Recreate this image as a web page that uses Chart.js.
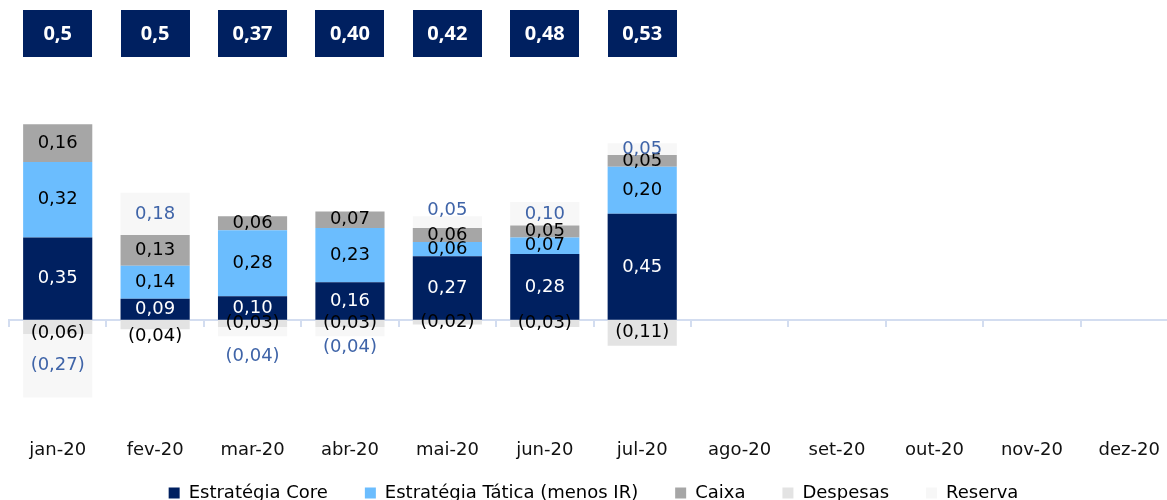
<!DOCTYPE html>
<html>
<head>
<meta charset="utf-8">
<script src="https://cdn.jsdelivr.net/npm/chart.js@4.4.0/dist/chart.umd.min.js"></script>
<style>
html,body{margin:0;padding:0;overflow:hidden;background:#fff}
#wrap{width:1180px;height:512px;position:relative}
</style>
</head>
<body>
<div id="wrap"><canvas id="c"></canvas></div>
<script>
const categories = ['jan-20','fev-20','mar-20','abr-20','mai-20','jun-20','jul-20','ago-20','set-20','out-20','nov-20','dez-20'];
const core     = [0.35, 0.09, 0.10, 0.16, 0.27, 0.28, 0.45, null, null, null, null, null];
const tatica   = [0.32, 0.14, 0.28, 0.23, 0.06, 0.07, 0.20, null, null, null, null, null];
const caixa    = [0.16, 0.13, 0.06, 0.07, 0.06, 0.05, 0.05, null, null, null, null, null];
const despesas = [-0.06, -0.04, -0.03, -0.03, -0.02, -0.03, -0.11, null, null, null, null, null];
const reserva  = [-0.27, 0.18, -0.04, -0.04, 0.05, 0.10, 0.05, null, null, null, null, null];
const totalLabels = ['0,5','0,5','0,37','0,40','0,42','0,48','0,53'];

const FONT = '"DejaVu Sans", sans-serif';

function fmt(v){
  const s = Math.abs(v).toFixed(2).replace('.', ',');
  return v < 0 ? '(' + s + ')' : s;
}

// manual label nudges (datasetIndex-index : pixels)
const labelNudge = {'3-0': 6, '3-1': 12, '4-2': 25, '4-3': 16, '4-4': -12};

const valueLabels = {
  id: 'valueLabels',
  afterDatasetsDraw(chart){
    const ctx = chart.ctx;
    ctx.save();
    ctx.font = '18px ' + FONT;
    ctx.textAlign = 'center';
    ctx.textBaseline = 'middle';
    chart.data.datasets.forEach((ds, di) => {
      const meta = chart.getDatasetMeta(di);
      meta.data.forEach((el, i) => {
        const v = ds.data[i];
        if (v === null || v === undefined) return;
        const p = el.getProps(['x','y','base'], true);
        const y = (p.y + p.base) / 2 + (labelNudge[di + '-' + i] || 0);
        ctx.fillStyle = ds.labelColor;
        ctx.fillText(fmt(v), p.x, y);
      });
    });
    ctx.restore();
  }
};

const totalBoxes = {
  id: 'totalBoxes',
  afterDraw(chart){
    const ctx = chart.ctx;
    const meta = chart.getDatasetMeta(0);
    ctx.save();
    ctx.font = 'bold 20px "Open Sans", sans-serif';
    ctx.textAlign = 'center';
    ctx.textBaseline = 'middle';
    totalLabels.forEach((t, i) => {
      const el = meta.data[i];
      const w = el.width;
      ctx.fillStyle = '#002060';
      ctx.fillRect(Math.round(el.x - w/2), 10, Math.round(w), 47);
      ctx.fillStyle = '#ffffff';
      ctx.fillText(t, el.x, 34);
    });
    ctx.restore();
  }
};

const ds = (label, data, color, labelColor) => ({
  label, data, backgroundColor: color, labelColor,
  borderWidth: 0, barPercentage: 0.71, categoryPercentage: 1.0, stack: 's'
});

new Chart(document.getElementById('c'), {
  type: 'bar',
  data: {
    labels: categories,
    datasets: [
      ds('Estratégia Core', core, '#002060', '#ffffff'),
      ds('Estratégia Tática (menos IR)', tatica, '#6BBDFE', '#000000'),
      ds('Caixa', caixa, '#A6A6A6', '#000000'),
      ds('Despesas', despesas, '#E3E3E3', '#000000'),
      ds('Reserva', reserva, '#F7F7F7', '#3F64A8')
    ]
  },
  options: {
    responsive: true,
    maintainAspectRatio: false,
    animation: false,
    layout: {padding: {left: 9, right: 2, top: 0, bottom: 0}},
    plugins: {
      legend: {
        position: 'bottom',
        labels: {
          boxWidth: 11, boxHeight: 11, padding: 37,
          color: '#000000',
          font: {family: FONT, size: 18}
        }
      },
      tooltip: {enabled: false}
    },
    scales: {
      x: {
        stacked: true,
        position: {y: -0.47},
        offset: true,
        grid: {display: false, offset: true},
        border: {display: false},
        ticks: {color: '#111111', font: {family: FONT, size: 18}, padding: 1, maxRotation: 0, autoSkip: false}
      },
      x2: {
        type: 'category',
        labels: categories,
        position: {y: 0},
        offset: true,
        grid: {offset: true, drawOnChartArea: false, drawTicks: true, tickLength: 6, color: '#D3DDF0', lineWidth: 2},
        border: {display: true, color: '#D3DDF0', width: 2},
        ticks: {display: false}
      },
      y: {
        stacked: true,
        display: false,
        min: -0.54,
        max: 1.358
      }
    }
  },
  plugins: [valueLabels, totalBoxes]
});
</script>
</body>
</html>
